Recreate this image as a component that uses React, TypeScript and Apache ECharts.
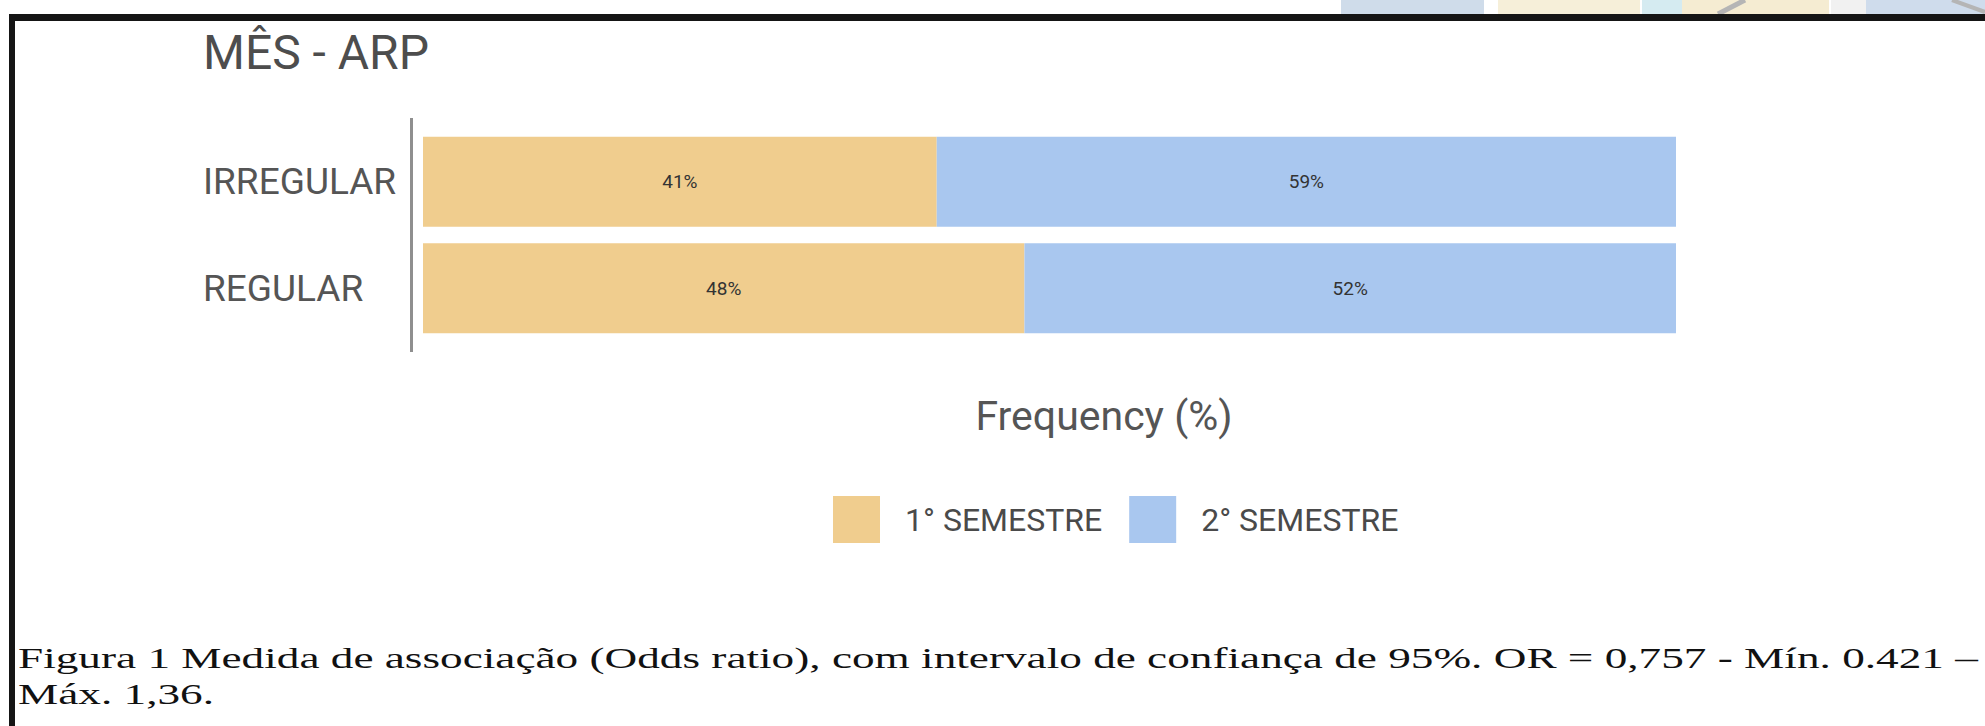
import React, { useEffect, useRef } from "react";
import * as echarts from "echarts";

const categories = ["IRREGULAR", "REGULAR"];
const seriesNames = ["1° SEMESTRE", "2° SEMESTRE"];
const firstSemester = [41, 48];
const secondSemester = [59, 52];
const titleText = "MÊS - ARP";
const axisTitle = "Frequency (%)";
const captionLines = [
  "Figura 1 Medida de associação (Odds ratio), com intervalo de confiança de 95%. OR = 0,757 - Mín. 0.421 –",
  "Máx. 1,36.",
];

const ORANGE = "#f0cd8e";
const BLUE = "#a9c7ef";

export default function App() {
  const ref = useRef<HTMLDivElement>(null);

  useEffect(() => {
    if (!ref.current) return;
    const chart = echarts.init(ref.current, undefined, { renderer: "svg" });
    const labelStyle = {
      show: true,
      position: "inside",
      formatter: "{c}%",
      fontSize: 19,
      color: "#333",
      fontFamily: "Roboto",
    };
    chart.setOption({
      animation: false,
      backgroundColor: "#ffffff",
      title: {
        text: titleText,
        left: 203,
        top: 28,
        padding: 0,
        textStyle: {
          fontSize: 48,
          fontWeight: "normal",
          color: "#4d4d4d",
          fontFamily: "Roboto",
        },
      },
      legend: {
        data: seriesNames,
        left: 833,
        top: 496,
        padding: 0,
        icon: "rect",
        itemWidth: 47,
        itemHeight: 47,
        itemGap: 27,
        textStyle: {
          fontSize: 32,
          color: "#4a4a4a",
          fontFamily: "Roboto",
          padding: [0, 0, 0, 20],
        },
      },
      grid: { left: 423, right: 309, top: 128.5, bottom: 384.5, containLabel: false },
      xAxis: {
        type: "value",
        min: 0,
        max: 100,
        show: false,
      },
      yAxis: {
        type: "category",
        data: categories,
        inverse: true,
        axisLine: { show: false },
        axisTick: { show: false },
        splitLine: { show: false },
        axisLabel: {
          align: "left",
          margin: 220,
          fontSize: 37,
          color: "#555",
          fontFamily: "Roboto",
        },
      },
      series: [
        {
          name: seriesNames[0],
          type: "bar",
          stack: "total",
          barWidth: 90,
          data: firstSemester,
          itemStyle: { color: ORANGE },
          label: labelStyle,
        },
        {
          name: seriesNames[1],
          type: "bar",
          stack: "total",
          barWidth: 90,
          data: secondSemester,
          itemStyle: { color: BLUE },
          label: labelStyle,
        },
      ],
      graphic: [
        // blurred strip above frame
        { type: "rect", shape: { x: 1341, y: 0, width: 143, height: 14 }, style: { fill: "#cfdcea" }, silent: true },
        { type: "rect", shape: { x: 1498, y: 0, width: 142, height: 14 }, style: { fill: "#f6efd9" }, silent: true },
        { type: "rect", shape: { x: 1642, y: 0, width: 40, height: 14 }, style: { fill: "#d5ebf1" }, silent: true },
        { type: "rect", shape: { x: 1682, y: 0, width: 147, height: 14 }, style: { fill: "#f5ecd2" }, silent: true },
        { type: "rect", shape: { x: 1831, y: 0, width: 35, height: 14 }, style: { fill: "#f1f1f1" }, silent: true },
        { type: "rect", shape: { x: 1866, y: 0, width: 119, height: 14 }, style: { fill: "#cfdcec" }, silent: true },
        { type: "line", shape: { x1: 1718, y1: 14, x2: 1745, y2: 0 }, style: { stroke: "#b5b5b5", lineWidth: 5 }, silent: true },
        { type: "line", shape: { x1: 1952, y1: 0, x2: 1985, y2: 12 }, style: { stroke: "#b5b5b5", lineWidth: 4 }, silent: true },
        // frame
        { type: "rect", shape: { x: 9, y: 14, width: 1976, height: 7 }, style: { fill: "#151515" }, silent: true },
        { type: "rect", shape: { x: 9, y: 14, width: 6, height: 712 }, style: { fill: "#151515" }, silent: true },
        // vertical axis line
        { type: "line", shape: { x1: 411.5, y1: 118, x2: 411.5, y2: 352 }, style: { stroke: "#8f8f8f", lineWidth: 3 }, silent: true },
        // axis title
        {
          type: "text",
          x: 1104,
          y: 416,
          style: {
            text: axisTitle,
            font: '41px Roboto',
            fill: "#555",
            align: "center",
            verticalAlign: "middle",
          },
          silent: true,
        },
        // caption
        {
          type: "text",
          x: 18,
          y: 658,
          scaleX: 1.508,
          style: {
            text: captionLines[0],
            font: '30px "Liberation Serif"',
            fill: "#111",
            align: "left",
            verticalAlign: "middle",
          },
          silent: true,
        },
        {
          type: "text",
          x: 18,
          y: 694,
          scaleX: 1.508,
          style: {
            text: captionLines[1],
            font: '30px "Liberation Serif"',
            fill: "#111",
            align: "left",
            verticalAlign: "middle",
          },
          silent: true,
        },
      ],
    });
    return () => chart.dispose();
  }, []);

  return (
    <div
      ref={ref}
      style={{ position: "fixed", left: 0, top: 0, width: 1985, height: 726 }}
    />
  );
}
